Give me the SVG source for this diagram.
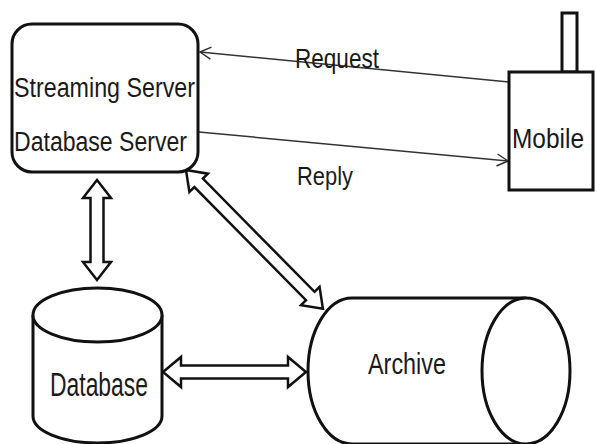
<svg xmlns="http://www.w3.org/2000/svg" width="597" height="444" viewBox="0 0 597 444">
<style>
.node{fill:#fff;stroke:#111;stroke-width:3}
.lbl{font-family:"Liberation Sans","Noto Sans",sans-serif;font-size:27px;fill:#1a1a1a}
.dbl{fill:#fff;stroke:#111;stroke-width:2.5;stroke-linejoin:miter}
.thin{stroke:#333;stroke-width:1.5;fill:none}
</style>
<defs>
<marker id="open" markerWidth="14" markerHeight="14" refX="12" refY="7" orient="auto" markerUnits="userSpaceOnUse">
<path d="M1,1 L12,7 L1,13" fill="none" stroke="#333" stroke-width="1.5"/>
</marker>
</defs>
<rect width="597" height="444" fill="#fff"/>
<g id="connectors">
<line class="thin" x1="509" y1="82" x2="200" y2="52" marker-end="url(#open)"/>
<line class="thin" x1="199" y1="132" x2="508" y2="161" marker-end="url(#open)"/>
<polygon class="dbl" points="97,180 111,198 103.5,198 103.5,262 111,262 97,280 83,262 90.5,262 90.5,198 83,198"/>
<polygon class="dbl" points="163,372 181,357 181,365.5 288,365.5 288,357 306,372 288,387 288,378.5 181,378.5 181,387"/>
<polygon class="dbl" transform="translate(186,170) rotate(45.4)" points="0,0 18,-13 18,-6 177,-6 177,-13 195,0 177,13 177,6 18,6 18,13"/>
<text class="lbl" x="295" y="68" style="font-size:28px" textLength="84" lengthAdjust="spacingAndGlyphs">Request</text>
<text class="lbl" x="297" y="185" style="font-size:26px" textLength="56" lengthAdjust="spacingAndGlyphs">Reply</text>
</g>
<g id="server">
<rect class="node" x="12" y="24" width="186" height="148" rx="20"/>
<text class="lbl" x="14" y="97" textLength="181" lengthAdjust="spacingAndGlyphs">Streaming Server</text>
<text class="lbl" x="14" y="151" textLength="173" lengthAdjust="spacingAndGlyphs">Database Server</text>
</g>
<g id="mobile">
<rect class="node" x="562" y="13" width="15" height="59"/>
<rect class="node" x="509" y="72" width="84" height="118"/>
<text class="lbl" x="512" y="148" style="font-size:28px" textLength="72" lengthAdjust="spacingAndGlyphs">Mobile</text>
</g>
<g id="database">
<path class="node" d="M33,315 L33,416 A64.5,27 0 0 0 162,416 L162,315"/>
<ellipse class="node" cx="97.5" cy="315" rx="64.5" ry="27"/>
<text class="lbl" x="50" y="396" style="font-size:33px" textLength="98" lengthAdjust="spacingAndGlyphs">Database</text>
</g>
<g id="archive">
<path class="node" d="M526,298 L352,298 A44,73 0 0 0 352,444 L526,444"/>
<ellipse class="node" cx="526" cy="371" rx="44" ry="73"/>
<text class="lbl" x="368" y="374" style="font-size:30px" textLength="78" lengthAdjust="spacingAndGlyphs">Archive</text>
</g>
</svg>
